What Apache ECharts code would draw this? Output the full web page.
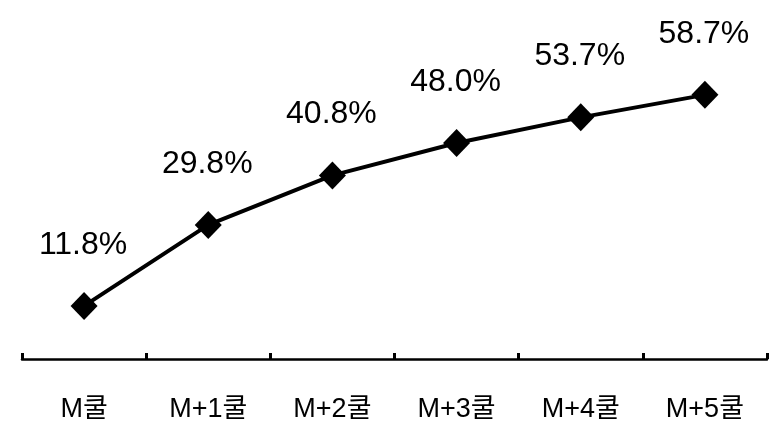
<!DOCTYPE html>
<html>
<head>
<meta charset="utf-8">
<script src="https://cdn.jsdelivr.net/npm/echarts@6/dist/echarts.min.js"></script>
<style>
  html, body { margin: 0; padding: 0; background: #fff; }
  #chart { width: 771px; height: 436px; }
</style>
</head>
<body>
<div id="chart"></div>
<script>
// Cumulative share by period
const categories = ['M쿨', 'M+1쿨', 'M+2쿨', 'M+3쿨', 'M+4쿨', 'M+5쿨'];
const values = [11.8, 29.8, 40.8, 48.0, 53.7, 58.7];

const chart = echarts.init(document.getElementById('chart'));
chart.setOption({
  backgroundColor: '#ffffff',
  animation: false,
  grid: { left: 22, right: 4, top: 44, bottom: 77 },
  xAxis: {
    type: 'category',
    data: categories,
    boundaryGap: true,
    axisLine: { show: true, lineStyle: { color: '#000', width: 2.5 } },
    axisTick: { show: true, inside: true, length: 6, interval: 0, lineStyle: { color: '#000', width: 3 } },
    axisLabel: {
      color: '#000',
      fontFamily: 'Liberation Sans, Noto Sans CJK KR, sans-serif',
      fontSize: 27,
      margin: 37
    }
  },
  yAxis: {
    type: 'value',
    min: 0,
    max: 70,
    show: false,
    splitLine: { show: false }
  },
  series: [{
    type: 'line',
    data: values,
    symbol: 'diamond',
    symbolSize: [27, 28],
    itemStyle: { color: '#000' },
    lineStyle: { color: '#000', width: 4 },
    label: {
      show: true,
      position: 'top',
      distance: 31,
      offset: [-1, 0],
      color: '#000',
      fontFamily: 'Liberation Sans, sans-serif',
      fontSize: 32,
      formatter: p => p.value.toFixed(1) + '%'
    }
  }]
});
</script>
</body>
</html>
